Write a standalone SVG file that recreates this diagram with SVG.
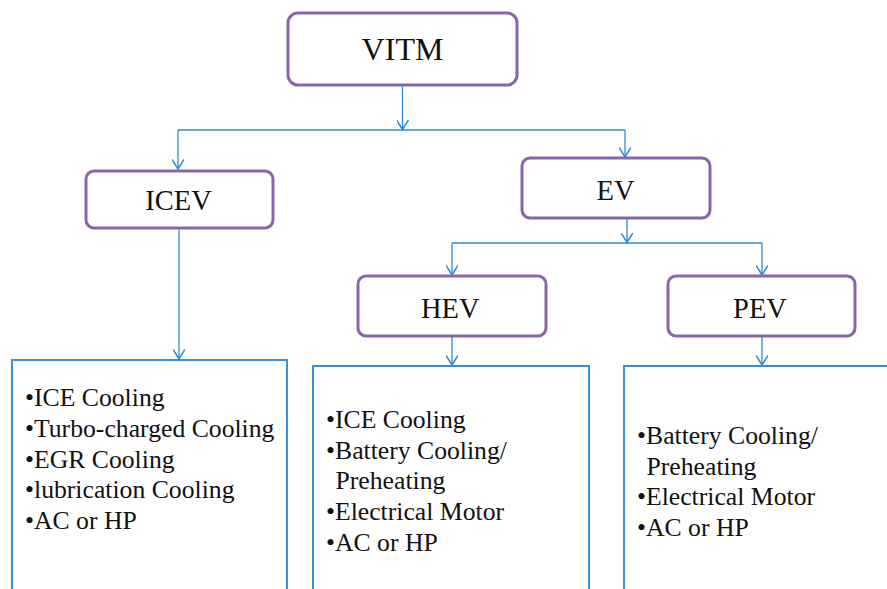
<svg xmlns="http://www.w3.org/2000/svg" width="887" height="589" viewBox="0 0 887 589">
<style>
.node rect.box{fill:#ffffff;stroke:#8766aa;stroke-width:3}
.title{fill:#111;text-anchor:middle}
.list rect{fill:#ffffff;stroke:#3a8fdb;stroke-width:2}
.item{font-size:25.7px;fill:#111}
.conn{fill:none;stroke:#2e8ad6;stroke-width:1.3}
</style>
<defs>
<marker id="arr" markerUnits="userSpaceOnUse" markerWidth="12" markerHeight="12" refX="8" refY="5" orient="auto" viewBox="0 0 10 10">
<path d="M0,0 L8,5 L0,10" fill="none" stroke="#2e8ad6" stroke-width="1.3"/>
</marker>
</defs>
<rect width="887" height="589" fill="#ffffff"/>
<g id="connectors">
<path class="conn" d="M402.5,85 V129.5" marker-end="url(#arr)"/>
<path class="conn" d="M178,130 H625"/>
<path class="conn" d="M178,130 V169" marker-end="url(#arr)"/>
<path class="conn" d="M625,130 V157" marker-end="url(#arr)"/>
<path class="conn" d="M627,218 V242.5" marker-end="url(#arr)"/>
<path class="conn" d="M452,243 H762"/>
<path class="conn" d="M452,243 V275" marker-end="url(#arr)"/>
<path class="conn" d="M762,243 V275" marker-end="url(#arr)"/>
<path class="conn" d="M179,228 V359" marker-end="url(#arr)"/>
<path class="conn" d="M452,336 V365" marker-end="url(#arr)"/>
<path class="conn" d="M762,336 V365" marker-end="url(#arr)"/>
</g>
<g font-family="Liberation Serif, Tinos, Times New Roman, DejaVu Serif, serif">
<g id="vitm" class="node">
<rect class="box" x="288" y="13" width="229" height="72" rx="10"/>
<text class="title" x="402.5" y="60" font-size="32">VITM</text>
</g>
<g id="icev" class="node">
<rect class="box" x="86" y="171" width="187" height="57" rx="8"/>
<text class="title" x="178.5" y="210" font-size="28.5">ICEV</text>
</g>
<g id="ev" class="node">
<rect class="box" x="522" y="158" width="188" height="60" rx="8"/>
<text class="title" x="615.6" y="199.5" font-size="28.5">EV</text>
</g>
<g id="hev" class="node">
<rect class="box" x="358" y="276" width="188" height="60" rx="8"/>
<text class="title" x="450.3" y="318" font-size="28.5">HEV</text>
</g>
<g id="pev" class="node">
<rect class="box" x="668" y="276" width="187" height="60" rx="8"/>
<text class="title" x="760" y="318" font-size="28.5">PEV</text>
</g>
<g id="icev-list" class="list">
<rect x="12" y="360" width="275" height="240"/>
<text class="item" x="25" y="406">•ICE Cooling</text>
<text class="item" x="25" y="437">•Turbo-charged Cooling</text>
<text class="item" x="25" y="468">•EGR Cooling</text>
<text class="item" x="25" y="498">•lubrication Cooling</text>
<text class="item" x="25" y="529">•AC or HP</text>
</g>
<g id="hev-list" class="list">
<rect x="313" y="366" width="276" height="240"/>
<text class="item" x="326" y="428">•ICE Cooling</text>
<text class="item" x="326" y="459">•Battery Cooling/</text>
<text class="item" x="335.5" y="489">Preheating</text>
<text class="item" x="326" y="520">•Electrical Motor</text>
<text class="item" x="326" y="551">•AC or HP</text>
</g>
<g id="pev-list" class="list">
<rect x="624" y="366" width="280" height="240"/>
<text class="item" x="637" y="444">•Battery Cooling/</text>
<text class="item" x="646.5" y="475">Preheating</text>
<text class="item" x="637" y="505">•Electrical Motor</text>
<text class="item" x="637" y="536">•AC or HP</text>
</g>
</g>
</svg>
